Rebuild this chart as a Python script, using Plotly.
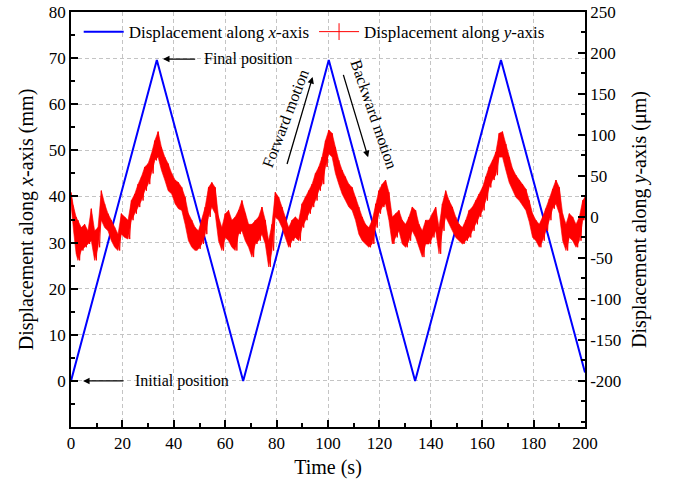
import plotly.graph_objects as go

# Displacement along x-axis (mm), triangle motion
t_x = [0, 33.4, 67.0, 100.3, 133.9, 167.3, 200]
disp_x = [0, 69.6, 0, 69.6, 0, 69.6, 1.8]

# Displacement along y-axis (um), upper / lower edge of the noisy band
t_y = [0.0, 1.0, 2.0, 2.7, 4.0, 5.3, 6.6, 7.9, 9.2, 10.5, 11.8, 13.1, 14.4, 15.7, 17.0,
       18.3, 19.6, 20.9, 22.2, 23.5, 24.8, 26.1, 27.4, 28.7, 30.0, 31.3, 32.6, 33.9, 35.2,
       36.5, 37.8, 39.2, 40.5, 41.8, 43.1, 44.4, 45.7, 47.0, 48.3, 49.6, 50.9, 52.2, 53.5,
       54.8, 56.1, 57.4, 58.7, 60.0, 61.3, 62.6, 63.9, 65.2, 66.5, 67.8, 69.1, 70.4, 71.7,
       73.0, 74.3, 75.6, 76.9, 78.2, 79.5, 80.8, 82.1, 83.4, 84.7, 86.0, 87.3, 88.6, 89.9,
       91.2, 92.5, 93.8, 95.1, 96.4, 97.7, 99.0, 100.3, 101.6, 102.9, 104.2, 105.5, 106.8,
       108.1, 109.4, 110.7, 112.0, 113.3, 114.6, 115.9, 117.2, 118.5, 119.8, 121.1, 122.4,
       123.7, 125.0, 126.3, 127.6, 128.9, 130.2, 131.5, 132.8, 134.1, 135.4, 136.7, 138.0,
       139.3, 140.6, 141.9, 143.2, 144.5, 145.8, 147.1, 148.4, 149.7, 151.0, 152.3, 153.6,
       154.9, 156.2, 157.5, 158.8, 160.1, 161.4, 162.7, 164.0, 165.3, 166.6, 167.9, 169.2,
       170.5, 171.8, 173.1, 174.4, 175.7, 177.0, 178.3, 179.6, 180.9, 182.2, 183.5, 184.8,
       186.1, 187.4, 188.7, 190.0, 191.3, 192.6, 193.9, 195.2, 196.5, 197.8, 199.1, 200.0]
y_hi = [30, 12, 0, -4, -13, -9, -17, 10, -17, -13, 32, 16, 4, -4, -13, -21, 4, 0, -4, 20,
        28, 40, 49, 61, 65, 77, 93, 104, 85, 73, 65, 53, 45, 42, 36, 24, 4, -4, -13, -17,
        -4, 12, 36, 42, 36, 0, -13, 4, 8, -4, 0, 8, 20, 4, -9, -9, -4, 0, 12, -4,
        -29, -9, 30, 24, 12, 0, -13, -4, 0, -4, 16, 24, 32, 40, 53, 61, 73, 93, 106, 102,
        85, 69, 57, 49, 40, 36, 24, 12, 0, -9, -13, -4, 16, 32, 40, 45, 30, 0, 4, 8,
        -4, -9, 0, 12, 8, -9, -17, -4, -4, 4, 12, -13, 16, 32, 20, 12, 0, -9, -13, -4,
        8, 12, 20, 28, 36, 49, 61, 69, 79, 102, 104, 89, 73, 59, 51, 45, 40, 34, 20, 4,
        -4, -9, 0, 10, 22, 34, 45, 36, 4, -9, 4, 0, -9, 0, 20, 24]
y_lo = [16, -17, -45, -53, -41, -37, -33, -29, -53, -37, -4, -13, -17, -29, -37, -41, -21, -25, -27, -4,
        4, 12, 20, 32, 40, 53, 69, 73, 57, 45, 32, 28, 16, 10, 8, -9, -29, -37, -41, -39,
        -33, -21, 0, 12, 4, -29, -41, -25, -29, -37, -41, -21, -17, -29, -37, -49, -33, -29, -21, -33,
        -61, -41, 0, -4, -13, -25, -37, -29, -25, -29, -13, -4, 4, 12, 20, 32, 40, 61, 77, 73,
        53, 40, 28, 20, 12, 8, -4, -21, -29, -33, -37, -33, -13, 4, 12, 16, -4, -33, -25, -17,
        -33, -37, -29, -17, -25, -37, -49, -33, -33, -25, -17, -45, -17, 0, -9, -17, -25, -29, -33, -29,
        -25, -17, -9, 0, 8, 20, 36, 45, 51, 73, 73, 57, 42, 32, 24, 20, 14, 8, -6, -25,
        -29, -37, -29, -17, -4, 10, 16, 4, -29, -41, -25, -29, -37, -29, -4, 0]

x_ticks = list(range(0, 201, 20))
y_ticks = list(range(0, 81, 10))
y2_ticks = list(range(-200, 251, 50))
y2_labels = [str(v) for v in y2_ticks]

# outline of the noisy band: upper edge forward, lower edge back
band_t = t_y + t_y[::-1]
band_y = y_hi + y_lo[::-1]

# zigzag between the edges on top, gives the ragged look
zz_t, zz_y = [], []
for i in range(len(t_y)):
    zz_t.append(t_y[i])
    zz_y.append(y_hi[i])
    if i + 1 < len(t_y):
        zz_t.append((t_y[i] + t_y[i + 1]) / 2)
        zz_y.append(y_lo[i])

FONT = 'Liberation Serif'
RED = '#ff0000'

fig = go.Figure()
fig.add_trace(go.Scatter(x=t_x, y=disp_x, mode='lines',
                         line=dict(color='#0000ff', width=2),
                         name='Displacement along <i>x</i>-axis'))
fig.add_trace(go.Scatter(x=band_t, y=band_y, yaxis='y2', mode='lines', fill='toself',
                         fillcolor=RED, line=dict(color=RED, width=0.6),
                         showlegend=False, legendgroup='y', hoverinfo='skip'))
fig.add_trace(go.Scatter(x=zz_t, y=zz_y, yaxis='y2', mode='lines',
                         line=dict(color=RED, width=1),
                         showlegend=False, legendgroup='y'))
# legend entry for the red series (line with a cross tick)
fig.add_trace(go.Scatter(x=[None], y=[None], yaxis='y2', mode='lines+markers',
                         line=dict(color=RED, width=1),
                         marker=dict(symbol='line-ns', size=12,
                                     line=dict(color=RED, width=1)),
                         name='Displacement along <i>y</i>-axis', legendgroup='y'))

axis_common = dict(showline=True, linecolor='black', linewidth=1.5, automargin=False,
                   ticks='inside', ticklen=7, tickwidth=1.5, tickcolor='black',
                   zeroline=False, ticklabeloverflow='allow',
                   tickfont=dict(family=FONT, size=17, color='black'))

fig.update_layout(
    width=673, height=483,
    margin=dict(l=71, r=88, t=12, b=56),
    plot_bgcolor='white', paper_bgcolor='white',
    font=dict(family=FONT, color='black'),
    xaxis=dict(range=[0, 200], tickmode='array', tickvals=x_ticks, mirror=True,
               showgrid=True, gridcolor='#c4c4c4', griddash='4px,3px', gridwidth=1,
               minor=dict(ticks='inside', ticklen=4, tickwidth=1.5, tickcolor='black',
                          tickmode='linear', tick0=0, dtick=10, showgrid=False),
               title=dict(text='Time (s)', font=dict(family=FONT, size=20), standoff=8),
               **axis_common),
    yaxis=dict(range=[-10, 80], tickmode='array', tickvals=y_ticks,
               showgrid=True, gridcolor='#c4c4c4', griddash='4px,3px', gridwidth=1,
               minor=dict(ticks='inside', ticklen=4, tickwidth=1.5, tickcolor='black',
                          tickmode='linear', tick0=0, dtick=5, showgrid=False),
               title=dict(text='Displacement along <i>x</i>-axis (mm)',
                          font=dict(family=FONT, size=20), standoff=10),
               **axis_common),
    yaxis2=dict(range=[-256.25, 250], overlaying='y', side='right',
                tickmode='array', tickvals=y2_ticks, ticktext=y2_labels, showgrid=False,
                minor=dict(ticks='inside', ticklen=4, tickwidth=1.5, tickcolor='black',
                           tickmode='linear', tick0=0, dtick=25, showgrid=False),
                title=dict(text='Displacement along <i>y</i>-axis (\u03bcm)',
                           font=dict(family=FONT, size=20), standoff=12),
                **axis_common),
    legend=dict(orientation='h', x=0.015, y=0.995, xanchor='left', yanchor='top',
                bgcolor='rgba(0,0,0,0)', font=dict(family=FONT, size=17),
                itemwidth=40, tracegroupgap=0),
    showlegend=True,
)

arrow = dict(showarrow=True, arrowhead=2, arrowsize=1, arrowwidth=1.3, arrowcolor='black',
             axref='x', ayref='y', text='', standoff=0)
label = dict(showarrow=False, font=dict(family=FONT, size=16, color='black'))
fig.update_layout(annotations=[
    dict(x=35.8, y=69.8, ax=48.9, ay=69.8, **arrow),
    dict(x=50.8, y=69.8, text='Final position', xanchor='left', **label),
    dict(x=4.7, y=0, ax=21.0, ay=0, **arrow),
    dict(x=24.1, y=0, text='Initial position', xanchor='left', **label),
    dict(x=94.0, y=65.9, ax=83.9, ay=46.7, **arrow),
    dict(x=83.3, y=57.0, text='Forward motion', textangle=-69, **label),
    dict(x=115.6, y=48.5, ax=105.8, ay=66.7, **arrow),
    dict(x=118.0, y=57.8, text='Backward motion', textangle=71, **label),
])

# drop the default 8px page margin so the figure sits at the window corner
fig.write_html('out.html', config={'displayModeBar': False},
               post_script="document.body.style.margin='0';")
